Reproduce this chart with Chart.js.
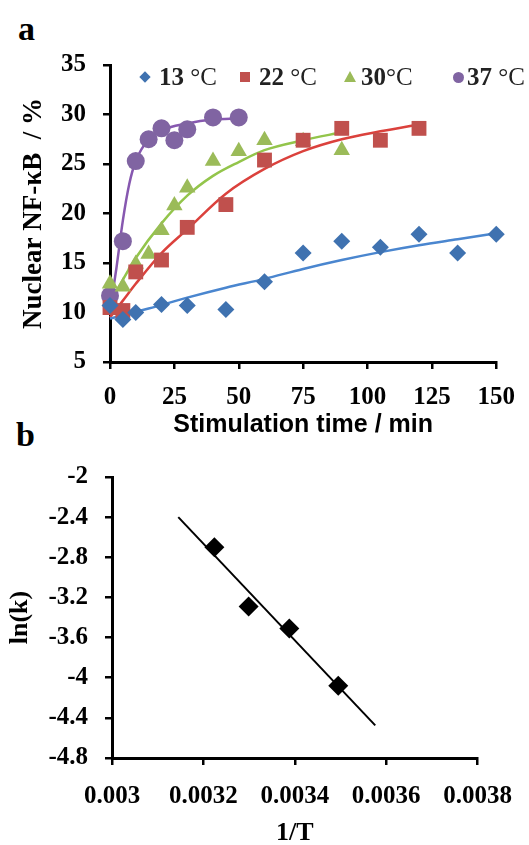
<!DOCTYPE html>
<html>
<head>
<meta charset="utf-8">
<script src="https://cdn.jsdelivr.net/npm/chart.js@4"></script>
<style>
  body { margin: 0; width: 529px; height: 845px; overflow: hidden; background: #fff; position: relative; }
  #wrapA { position: absolute; left: 0; top: 0; width: 529px; height: 440px; }
  #wrapB { position: absolute; left: 0; top: 430px; width: 529px; height: 420px; }
  .panel { position: absolute; font: bold 34px "Liberation Serif", serif; line-height: 1; color: #000; }
  .lg { position: absolute; top: 63px; font: bold 25px "Liberation Serif", serif; line-height: 28px; color: #222; white-space: nowrap; }
  .lg .deg { font-weight: normal; }
  .mk { position: absolute; top: 77px; }
</style>
</head>
<body>
<div class="panel" style="left:18px;top:12px;">a</div>
<div class="panel" style="left:16px;top:418px;">b</div>

<div id="wrapA"><canvas id="chartA" width="529" height="440"></canvas></div>
<div id="wrapB"><canvas id="chartB" width="529" height="420"></canvas></div>

<!-- legend for panel a -->
<div class="mk" style="left:141px;margin-top:-4px;width:8px;height:8px;background:#3F72B0;transform:rotate(45deg);"></div>
<div class="lg" style="left:159px;">13 <span class="deg">°C</span></div>
<div class="mk" style="left:240px;margin-top:-5px;width:10px;height:10px;background:#C0504D;"></div>
<div class="lg" style="left:259px;">22 <span class="deg">°C</span></div>
<div class="mk" style="left:344px;margin-top:-6px;width:0;height:0;border-left:6px solid transparent;border-right:6px solid transparent;border-bottom:11px solid #9BBB59;"></div>
<div class="lg" style="left:361px;">30<span class="deg">°C</span></div>
<div class="mk" style="left:453px;margin-top:-5px;width:11px;height:11px;border-radius:50%;background:#8064A2;"></div>
<div class="lg" style="left:467px;">37 <span class="deg">°C</span></div>

<script>
// panel a: nuclear NF-kB vs stimulation time
const time13 = [0, 5, 10, 20, 30, 45, 60, 75, 90, 105, 120, 135, 150];
const nfkb13 = [10.7, 9.3, 10.0, 10.8, 10.7, 10.3, 13.1, 16.0, 17.2, 16.6, 17.9, 16.0, 17.9];
const time22 = [0, 5, 10, 20, 30, 45, 60, 75, 90, 105, 120];
const nfkb22 = [10.5, 10.2, 14.1, 15.3, 18.6, 20.9, 25.4, 27.4, 28.6, 27.4, 28.6];
const time30 = [0, 5, 10, 15, 20, 25, 30, 40, 50, 60, 75, 90];
const nfkb30 = [12.9, 12.6, 14.9, 15.9, 18.3, 20.8, 22.6, 25.3, 26.3, 27.4, 27.3, 26.4];
const time37 = [0, 5, 10, 15, 20, 25, 30, 40, 50];
const nfkb37 = [11.7, 17.2, 25.3, 27.5, 28.6, 27.4, 28.5, 29.7, 29.7];

// fitted curves
const fitTime13 = [0, 15, 30, 45, 60, 75, 90, 105, 120, 135, 150];
const fitVal13 = [9.4, 10.4, 11.5, 12.5, 13.4, 14.4, 15.3, 16.1, 16.8, 17.4, 18.0];
const fitTime22 = [0, 5, 10, 20, 30, 45, 60, 75, 90, 105, 120];
const fitVal22 = [9.5, 11.2, 12.9, 16.0, 18.4, 22.0, 24.5, 26.3, 27.5, 28.3, 29.0];
const fitTime30 = [0, 5, 10, 20, 30, 40, 50, 60, 75, 90];
const fitVal30 = [11.0, 13.3, 15.5, 19.0, 21.8, 23.8, 25.2, 26.4, 27.4, 28.2];
const fitTime37 = [0, 2.5, 5, 7.5, 10, 15, 20, 30, 40, 50];
const fitVal37 = [10.2, 14.5, 19.3, 23.0, 25.3, 27.5, 28.4, 29.1, 29.5, 29.6];

// panel b: Arrhenius plot
const invT = [0.003224, 0.003299, 0.003388, 0.003495];
const lnK = [-2.70, -3.29, -3.51, -4.08];
const fitInvT = [0.003145, 0.003576];
const fitLnK = [-2.40, -4.475];

const zip = (xs, ys) => xs.map((x, i) => ({ x: x, y: ys[i] }));

const tickFont = { family: 'Liberation Serif', weight: 'bold', size: 25 };

function axis(extra) {
    return Object.assign({
        type: 'linear',
        grid: { display: true, drawOnChartArea: false, drawTicks: true, tickLength: 7, color: '#000', lineWidth: 2.5 },
        border: { display: true, color: '#000', width: 3 }
    }, extra);
}

function markers(data, color, style, r) {
    return { data: data, showLine: false, pointStyle: style, pointRadius: r, pointHoverRadius: r,
             backgroundColor: color, borderColor: color, borderWidth: 0, clip: false };
}

function fitLine(data, color) {
    return { data: data, showLine: true, pointRadius: 0, borderColor: color, borderWidth: 2.5,
             tension: 0.4, cubicInterpolationMode: 'monotone', fill: false, clip: false };
}

new Chart(document.getElementById('chartA'), {
    type: 'scatter',
    data: {
        datasets: [
            markers(zip(time13, nfkb13), '#3F72B0', 'rectRot', 8.5),
            markers(zip(time22, nfkb22), '#C0504D', 'rect', 10.5),
            markers(zip(time30, nfkb30), '#9BBB59', 'triangle', 9.5),
            markers(zip(time37, nfkb37), '#8064A2', 'circle', 9),
            fitLine(zip(fitTime13, fitVal13), '#4A86CF'),
            fitLine(zip(fitTime22, fitVal22), '#DB413C'),
            fitLine(zip(fitTime30, fitVal30), '#93C54B'),
            fitLine(zip(fitTime37, fitVal37), '#8758B0')
        ]
    },
    options: {
        responsive: false,
        animation: false,
        layout: { padding: { top: 65, right: 32, left: 0, bottom: 0 } },
        plugins: { legend: { display: false }, tooltip: { enabled: false } },
        scales: {
            x: axis({
                min: 0, max: 150,
                ticks: { stepSize: 25, font: tickFont, color: '#000', padding: 14, maxRotation: 0 },
                title: { display: true, text: 'Stimulation time / min', color: '#000',
                         font: { family: 'Liberation Sans', weight: 'bold', size: 25 }, padding: { top: 0, bottom: 0 } },
                afterFit: (s) => { s.height = 78; }
            }),
            y: axis({
                min: 5, max: 35,
                ticks: { stepSize: 5, font: tickFont, color: '#000', padding: 17 },
                title: { display: true, text: 'Nuclear NF-\u03baB  / %', color: '#000',
                         font: { family: 'Liberation Serif', weight: 'bold', size: 27 }, padding: { top: 18, bottom: 0 } },
                afterFit: (s) => { s.width = 110; }
            })
        }
    }
});

new Chart(document.getElementById('chartB'), {
    type: 'scatter',
    data: {
        datasets: [
            markers(zip(invT, lnK), '#000', 'rectRot', 10),
            { data: zip(fitInvT, fitLnK), showLine: true, pointRadius: 0, borderColor: '#000', borderWidth: 2, clip: false }
        ]
    },
    options: {
        responsive: false,
        animation: false,
        layout: { padding: { top: 47, right: 49, left: 0, bottom: 0 } },
        plugins: { legend: { display: false }, tooltip: { enabled: false } },
        scales: {
            x: axis({
                min: 0.003, max: 0.0038,
                ticks: { stepSize: 0.0002, font: tickFont, color: '#000', padding: 17, maxRotation: 0,
                         callback: (v) => String(+v.toFixed(4)) },
                title: { display: true, text: '1/T', color: '#000',
                         font: { family: 'Liberation Serif', weight: 'bold', size: 26 }, padding: { top: 0, bottom: 1 } },
                afterFit: (s) => { s.height = 92; }
            }),
            y: axis({
                min: -4.8, max: -2,
                ticks: { stepSize: 0.4, font: tickFont, color: '#000', padding: 17,
                         callback: (v) => String(+v.toFixed(1)) },
                title: { display: true, text: 'ln(k)', color: '#000',
                         font: { family: 'Liberation Serif', weight: 'bold', size: 26 }, padding: { top: 5, bottom: 0 } },
                afterFit: (s) => { s.width = 112; }
            })
        }
    }
});
</script>
</body>
</html>
